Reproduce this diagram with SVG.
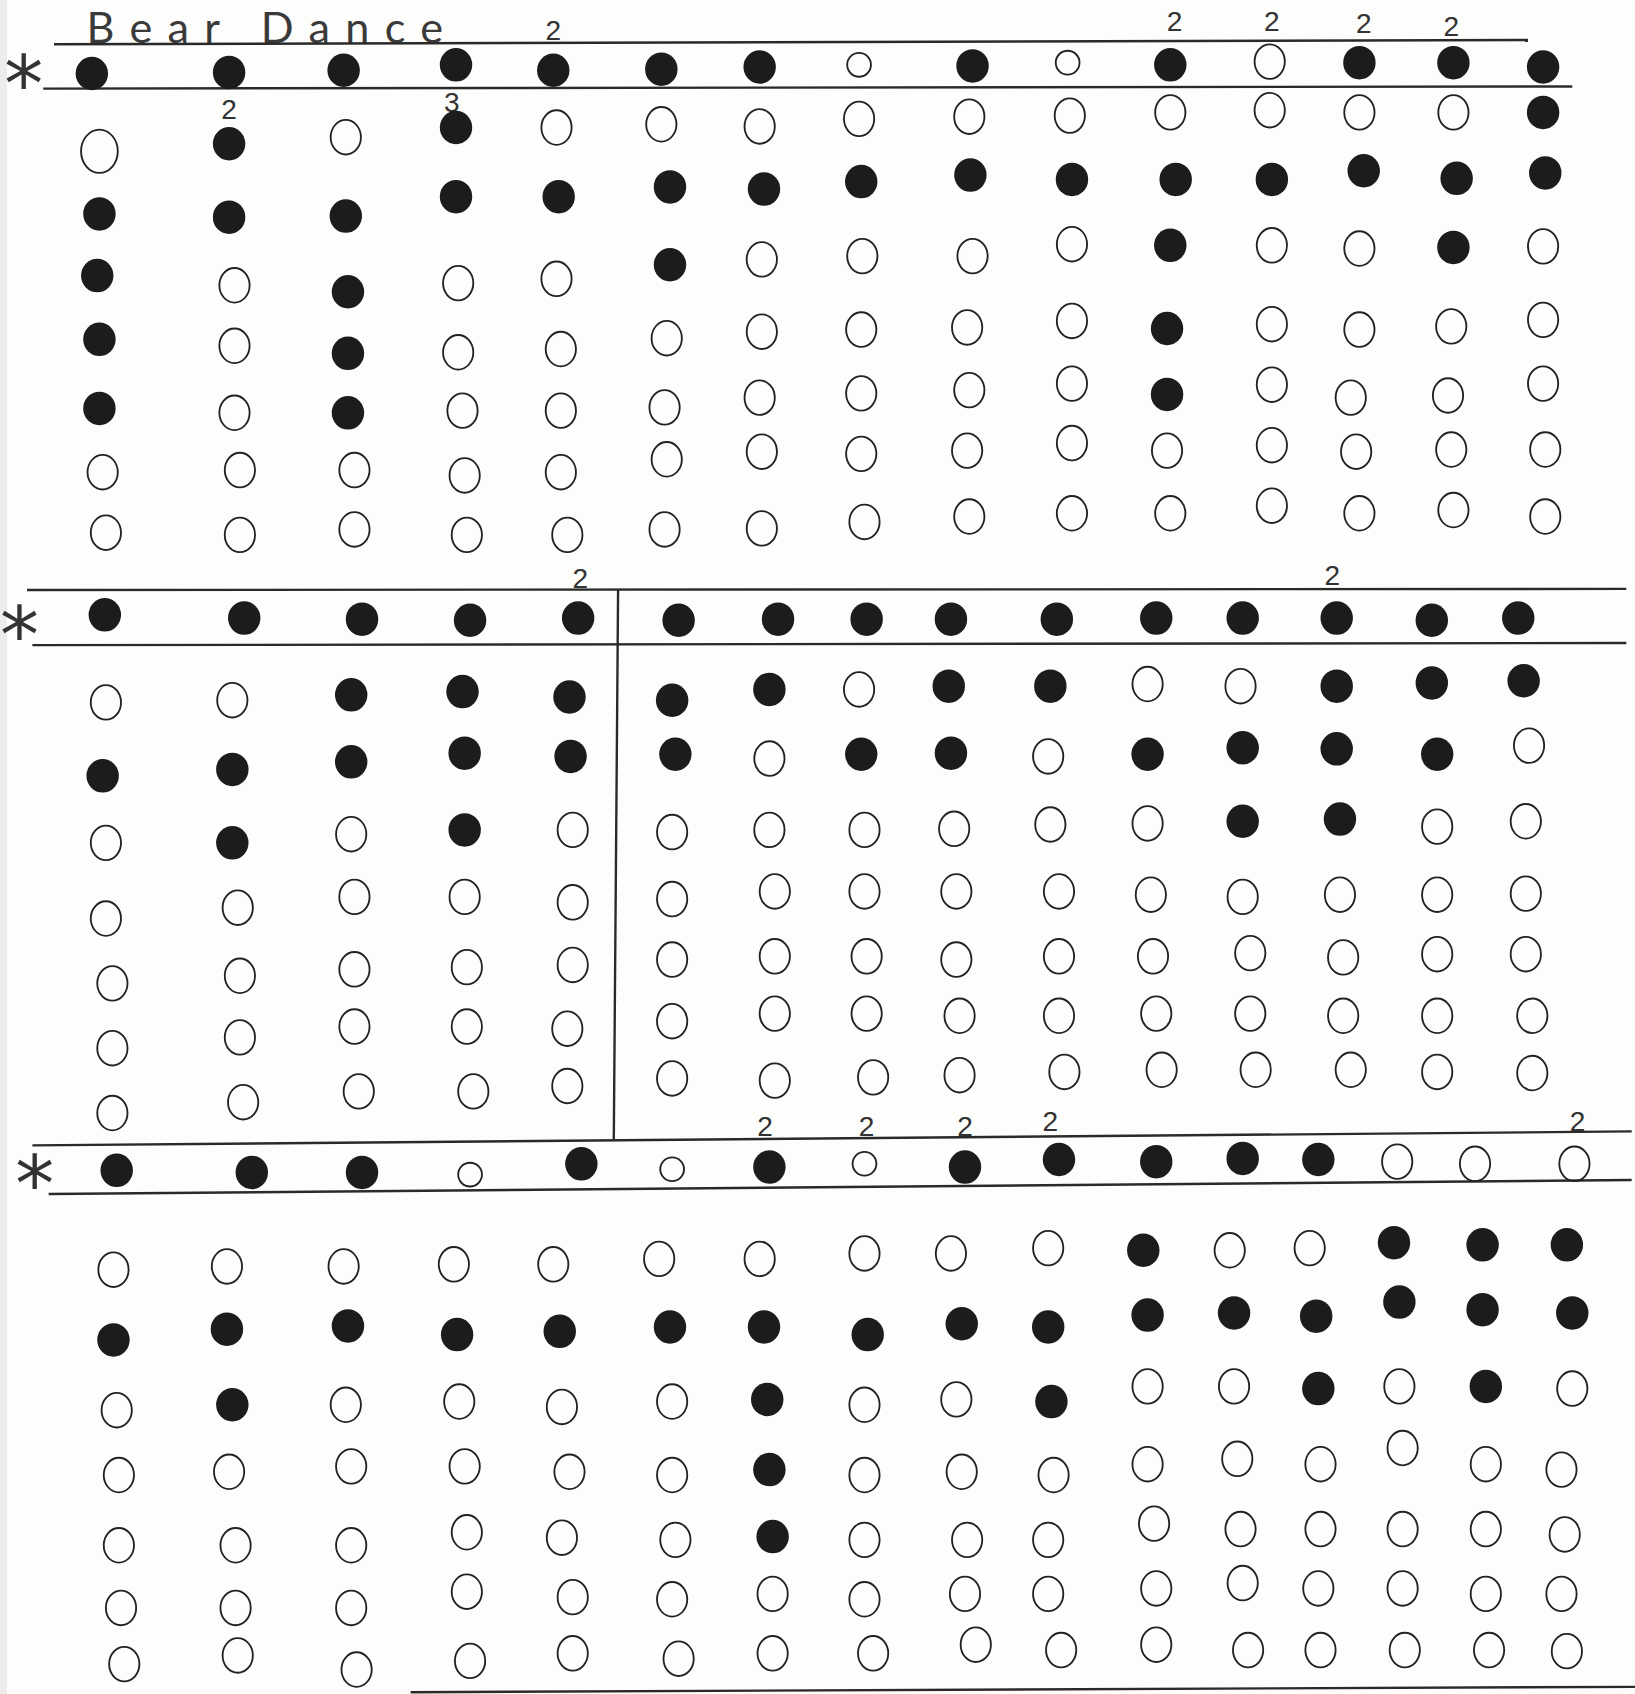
<svg xmlns="http://www.w3.org/2000/svg" xmlns:xlink="http://www.w3.org/1999/xlink" width="1635" height="1694" viewBox="0 0 1635 1694">
<style>
.ln{stroke:#2a2a2a;stroke-width:2.2;fill:none}
.num{font-family:"Liberation Sans",Arial,sans-serif;font-size:26px;fill:#333;text-anchor:middle}
.star{font-family:"DejaVu Sans",sans-serif;font-size:72px;fill:#333;text-anchor:middle}
.title{font-family:"Lato","DejaVu Sans",sans-serif;font-weight:400;font-size:40px;fill:#3a3a3a}
</style>
<defs>
<ellipse id="F" cx="0" cy="0" rx="15" ry="15.5" fill="#1c1c1c"/>
<ellipse id="O" cx="0" cy="0" rx="14" ry="16" fill="none" stroke="#222" stroke-width="1.7"/>
<ellipse id="o" cx="0" cy="0" rx="11" ry="11" fill="none" stroke="#222" stroke-width="1.7"/>
</defs>
<rect width="1635" height="1694" fill="#fdfdfc"/>
<rect x="0" y="0" width="7" height="1694" fill="#ececea"/>
<g transform="scale(1.0806)">
<g id="title"><text class="title" x="80" y="40" textLength="330" lengthAdjust="spacing">Bear Dance</text></g>
<g id="lines">
<line class="ln" x1="50" y1="41" x2="1414" y2="37"/>
<line class="ln" x1="40" y1="82" x2="1455" y2="80"/>
<line class="ln" x1="25" y1="546" x2="1505" y2="545"/>
<line class="ln" x1="30" y1="597" x2="1505" y2="595"/>
<line class="ln" x1="572" y1="545" x2="568" y2="1056"/>
<line class="ln" x1="30" y1="1060" x2="1510" y2="1047"/>
<line class="ln" x1="45" y1="1105" x2="1510" y2="1092"/>
<line class="ln" x1="380" y1="1566" x2="1513" y2="1561"/>
</g>
<g id="stars">
<text class="star" x="22" y="103">*</text>
<text class="star" x="18" y="613">*</text>
<text class="star" x="32" y="1121">*</text>
</g>
<g id="numbers">
<text class="num" x="512" y="37">2</text>
<text class="num" x="1087" y="29">2</text>
<text class="num" x="1177" y="29">2</text>
<text class="num" x="1262" y="31">2</text>
<text class="num" x="1343" y="33">2</text>
<text class="num" x="212" y="110">2</text>
<text class="num" x="418" y="104">3</text>
<text class="num" x="537" y="544">2</text>
<text class="num" x="1233" y="541">2</text>
<text class="num" x="708" y="1051">2</text>
<text class="num" x="802" y="1051">2</text>
<text class="num" x="893" y="1051">2</text>
<text class="num" x="972" y="1047">2</text>
<text class="num" x="1460" y="1047">2</text>
</g>
<g id="section1">
<use href="#F" x="85" y="68"/><use href="#F" x="212" y="67"/><use href="#F" x="318" y="65"/><use href="#F" x="422" y="60"/><use href="#F" x="512" y="65"/><use href="#F" x="612" y="64"/><use href="#F" x="703" y="62"/><use href="#o" x="795" y="60"/><use href="#F" x="900" y="61"/><use href="#o" x="988" y="58"/><use href="#F" x="1083" y="60"/><use href="#O" x="1175" y="57"/><use href="#F" x="1258" y="58"/><use href="#F" x="1345" y="58"/><use href="#F" x="1428" y="62"/>
<ellipse cx="92" cy="140" rx="17" ry="20" fill="none" stroke="#222" stroke-width="1.7"/><use href="#F" x="212" y="133"/><use href="#O" x="320" y="127"/><use href="#F" x="422" y="118"/><use href="#O" x="515" y="118"/><use href="#O" x="612" y="115"/><use href="#O" x="703" y="117"/><use href="#O" x="795" y="110"/><use href="#O" x="897" y="108"/><use href="#O" x="990" y="107"/><use href="#O" x="1083" y="104"/><use href="#O" x="1175" y="102"/><use href="#O" x="1258" y="104"/><use href="#O" x="1345" y="104"/><use href="#F" x="1428" y="104"/>
<use href="#F" x="92" y="198"/><use href="#F" x="212" y="201"/><use href="#F" x="320" y="200"/><use href="#F" x="422" y="182"/><use href="#F" x="517" y="182"/><use href="#F" x="620" y="173"/><use href="#F" x="707" y="175"/><use href="#F" x="797" y="168"/><use href="#F" x="898" y="162"/><use href="#F" x="992" y="166"/><use href="#F" x="1088" y="166"/><use href="#F" x="1177" y="166"/><use href="#F" x="1262" y="158"/><use href="#F" x="1348" y="165"/><use href="#F" x="1430" y="160"/>
<use href="#F" x="90" y="255"/><use href="#O" x="217" y="264"/><use href="#F" x="322" y="270"/><use href="#O" x="424" y="262"/><use href="#O" x="515" y="258"/><use href="#F" x="620" y="245"/><use href="#O" x="705" y="240"/><use href="#O" x="798" y="237"/><use href="#O" x="900" y="237"/><use href="#O" x="992" y="226"/><use href="#F" x="1083" y="227"/><use href="#O" x="1177" y="227"/><use href="#O" x="1258" y="230"/><use href="#F" x="1345" y="229"/><use href="#O" x="1428" y="228"/>
<use href="#F" x="92" y="314"/><use href="#O" x="217" y="320"/><use href="#F" x="322" y="327"/><use href="#O" x="424" y="326"/><use href="#O" x="519" y="323"/><use href="#O" x="617" y="313"/><use href="#O" x="705" y="307"/><use href="#O" x="797" y="305"/><use href="#O" x="895" y="303"/><use href="#O" x="992" y="297"/><use href="#F" x="1080" y="304"/><use href="#O" x="1177" y="300"/><use href="#O" x="1258" y="305"/><use href="#O" x="1343" y="302"/><use href="#O" x="1428" y="296"/>
<use href="#F" x="92" y="378"/><use href="#O" x="217" y="382"/><use href="#F" x="322" y="382"/><use href="#O" x="428" y="380"/><use href="#O" x="519" y="380"/><use href="#O" x="615" y="377"/><use href="#O" x="703" y="368"/><use href="#O" x="797" y="364"/><use href="#O" x="897" y="361"/><use href="#O" x="992" y="355"/><use href="#F" x="1080" y="365"/><use href="#O" x="1177" y="356"/><use href="#O" x="1250" y="368"/><use href="#O" x="1340" y="366"/><use href="#O" x="1428" y="355"/>
<use href="#O" x="95" y="437"/><use href="#O" x="222" y="435"/><use href="#O" x="328" y="435"/><use href="#O" x="430" y="440"/><use href="#O" x="519" y="437"/><use href="#O" x="617" y="425"/><use href="#O" x="705" y="418"/><use href="#O" x="797" y="420"/><use href="#O" x="895" y="417"/><use href="#O" x="992" y="410"/><use href="#O" x="1080" y="417"/><use href="#O" x="1177" y="412"/><use href="#O" x="1255" y="418"/><use href="#O" x="1343" y="416"/><use href="#O" x="1430" y="416"/>
<use href="#O" x="98" y="493"/><use href="#O" x="222" y="495"/><use href="#O" x="328" y="490"/><use href="#O" x="432" y="495"/><use href="#O" x="525" y="495"/><use href="#O" x="615" y="490"/><use href="#O" x="705" y="489"/><use href="#O" x="800" y="483"/><use href="#O" x="897" y="478"/><use href="#O" x="992" y="475"/><use href="#O" x="1083" y="475"/><use href="#O" x="1177" y="468"/><use href="#O" x="1258" y="475"/><use href="#O" x="1345" y="472"/><use href="#O" x="1430" y="478"/>
</g>
<g id="section2">
<use href="#F" x="97" y="569"/><use href="#F" x="226" y="572"/><use href="#F" x="335" y="573"/><use href="#F" x="435" y="574"/><use href="#F" x="535" y="572"/><use href="#F" x="628" y="574"/><use href="#F" x="720" y="573"/><use href="#F" x="802" y="573"/><use href="#F" x="880" y="573"/><use href="#F" x="978" y="573"/><use href="#F" x="1070" y="572"/><use href="#F" x="1150" y="572"/><use href="#F" x="1237" y="572"/><use href="#F" x="1325" y="574"/><use href="#F" x="1405" y="572"/>
<use href="#O" x="98" y="650"/><use href="#O" x="215" y="648"/><use href="#F" x="325" y="643"/><use href="#F" x="428" y="640"/><use href="#F" x="527" y="645"/>
<use href="#F" x="95" y="718"/><use href="#F" x="215" y="712"/><use href="#F" x="325" y="705"/><use href="#F" x="430" y="697"/><use href="#F" x="528" y="700"/>
<use href="#O" x="98" y="780"/><use href="#F" x="215" y="780"/><use href="#O" x="325" y="772"/><use href="#F" x="430" y="768"/><use href="#O" x="530" y="768"/>
<use href="#O" x="98" y="850"/><use href="#O" x="220" y="840"/><use href="#O" x="328" y="830"/><use href="#O" x="430" y="830"/><use href="#O" x="530" y="835"/>
<use href="#O" x="104" y="910"/><use href="#O" x="222" y="903"/><use href="#O" x="328" y="897"/><use href="#O" x="432" y="895"/><use href="#O" x="530" y="893"/>
<use href="#O" x="104" y="970"/><use href="#O" x="222" y="960"/><use href="#O" x="328" y="950"/><use href="#O" x="432" y="950"/><use href="#O" x="525" y="952"/>
<use href="#O" x="104" y="1030"/><use href="#O" x="225" y="1020"/><use href="#O" x="332" y="1010"/><use href="#O" x="438" y="1010"/><use href="#O" x="525" y="1005"/>
<use href="#F" x="622" y="648"/><use href="#F" x="712" y="638"/><use href="#O" x="795" y="638"/><use href="#F" x="878" y="635"/><use href="#F" x="972" y="635"/><use href="#O" x="1062" y="633"/><use href="#O" x="1148" y="635"/><use href="#F" x="1237" y="635"/><use href="#F" x="1325" y="632"/><use href="#F" x="1410" y="630"/>
<use href="#F" x="625" y="698"/><use href="#O" x="712" y="702"/><use href="#F" x="797" y="698"/><use href="#F" x="880" y="697"/><use href="#O" x="970" y="700"/><use href="#F" x="1062" y="698"/><use href="#F" x="1150" y="692"/><use href="#F" x="1237" y="693"/><use href="#F" x="1330" y="698"/><use href="#O" x="1415" y="690"/>
<use href="#O" x="622" y="770"/><use href="#O" x="712" y="768"/><use href="#O" x="800" y="768"/><use href="#O" x="883" y="767"/><use href="#O" x="972" y="763"/><use href="#O" x="1062" y="762"/><use href="#F" x="1150" y="760"/><use href="#F" x="1240" y="758"/><use href="#O" x="1330" y="765"/><use href="#O" x="1412" y="760"/>
<use href="#O" x="622" y="832"/><use href="#O" x="717" y="825"/><use href="#O" x="800" y="825"/><use href="#O" x="885" y="825"/><use href="#O" x="980" y="825"/><use href="#O" x="1065" y="828"/><use href="#O" x="1150" y="830"/><use href="#O" x="1240" y="828"/><use href="#O" x="1330" y="828"/><use href="#O" x="1412" y="827"/>
<use href="#O" x="622" y="888"/><use href="#O" x="717" y="885"/><use href="#O" x="802" y="885"/><use href="#O" x="885" y="888"/><use href="#O" x="980" y="885"/><use href="#O" x="1067" y="885"/><use href="#O" x="1157" y="882"/><use href="#O" x="1243" y="886"/><use href="#O" x="1330" y="883"/><use href="#O" x="1412" y="883"/>
<use href="#O" x="622" y="945"/><use href="#O" x="717" y="938"/><use href="#O" x="802" y="938"/><use href="#O" x="888" y="940"/><use href="#O" x="980" y="940"/><use href="#O" x="1070" y="938"/><use href="#O" x="1157" y="938"/><use href="#O" x="1243" y="940"/><use href="#O" x="1330" y="940"/><use href="#O" x="1418" y="940"/>
<use href="#O" x="622" y="998"/><use href="#O" x="717" y="1000"/><use href="#O" x="808" y="997"/><use href="#O" x="888" y="995"/><use href="#O" x="985" y="992"/><use href="#O" x="1075" y="990"/><use href="#O" x="1162" y="990"/><use href="#O" x="1250" y="990"/><use href="#O" x="1330" y="992"/><use href="#O" x="1418" y="993"/>
</g>
<g id="section3">
<use href="#F" x="108" y="1083"/><use href="#F" x="233" y="1085"/><use href="#F" x="335" y="1085"/><use href="#o" x="435" y="1087"/><use href="#F" x="538" y="1077"/><use href="#o" x="622" y="1082"/><use href="#F" x="712" y="1080"/><use href="#o" x="800" y="1077"/><use href="#F" x="893" y="1080"/><use href="#F" x="980" y="1073"/><use href="#F" x="1070" y="1075"/><use href="#F" x="1150" y="1072"/><use href="#F" x="1220" y="1073"/><use href="#O" x="1293" y="1075"/><use href="#O" x="1365" y="1077"/><use href="#O" x="1457" y="1077"/>
<use href="#O" x="105" y="1175"/><use href="#O" x="210" y="1172"/><use href="#O" x="318" y="1172"/><use href="#O" x="420" y="1170"/><use href="#O" x="512" y="1170"/><use href="#O" x="610" y="1165"/><use href="#O" x="703" y="1165"/><use href="#O" x="800" y="1160"/><use href="#O" x="880" y="1160"/><use href="#O" x="970" y="1155"/><use href="#F" x="1058" y="1157"/><use href="#O" x="1138" y="1157"/><use href="#O" x="1212" y="1155"/><use href="#F" x="1290" y="1150"/><use href="#F" x="1372" y="1152"/><use href="#F" x="1450" y="1152"/>
<use href="#F" x="105" y="1240"/><use href="#F" x="210" y="1230"/><use href="#F" x="322" y="1227"/><use href="#F" x="423" y="1235"/><use href="#F" x="518" y="1232"/><use href="#F" x="620" y="1228"/><use href="#F" x="707" y="1228"/><use href="#F" x="803" y="1235"/><use href="#F" x="890" y="1225"/><use href="#F" x="970" y="1228"/><use href="#F" x="1062" y="1217"/><use href="#F" x="1142" y="1215"/><use href="#F" x="1218" y="1218"/><use href="#F" x="1295" y="1205"/><use href="#F" x="1372" y="1212"/><use href="#F" x="1455" y="1215"/>
<use href="#O" x="108" y="1305"/><use href="#F" x="215" y="1300"/><use href="#O" x="320" y="1300"/><use href="#O" x="425" y="1297"/><use href="#O" x="520" y="1302"/><use href="#O" x="622" y="1297"/><use href="#F" x="710" y="1295"/><use href="#O" x="800" y="1300"/><use href="#O" x="885" y="1295"/><use href="#F" x="973" y="1297"/><use href="#O" x="1062" y="1283"/><use href="#O" x="1142" y="1283"/><use href="#F" x="1220" y="1285"/><use href="#O" x="1295" y="1283"/><use href="#F" x="1375" y="1283"/><use href="#O" x="1455" y="1285"/>
<use href="#O" x="110" y="1365"/><use href="#O" x="212" y="1362"/><use href="#O" x="325" y="1357"/><use href="#O" x="430" y="1357"/><use href="#O" x="527" y="1362"/><use href="#O" x="622" y="1365"/><use href="#F" x="712" y="1360"/><use href="#O" x="800" y="1365"/><use href="#O" x="890" y="1362"/><use href="#O" x="975" y="1365"/><use href="#O" x="1062" y="1355"/><use href="#O" x="1145" y="1350"/><use href="#O" x="1222" y="1355"/><use href="#O" x="1298" y="1340"/><use href="#O" x="1375" y="1355"/><use href="#O" x="1445" y="1360"/>
<use href="#O" x="110" y="1430"/><use href="#O" x="218" y="1430"/><use href="#O" x="325" y="1430"/><use href="#O" x="432" y="1418"/><use href="#O" x="520" y="1423"/><use href="#O" x="625" y="1425"/><use href="#F" x="715" y="1422"/><use href="#O" x="800" y="1425"/><use href="#O" x="895" y="1425"/><use href="#O" x="970" y="1425"/><use href="#O" x="1068" y="1410"/><use href="#O" x="1148" y="1415"/><use href="#O" x="1222" y="1415"/><use href="#O" x="1298" y="1415"/><use href="#O" x="1375" y="1415"/><use href="#O" x="1448" y="1420"/>
<use href="#O" x="112" y="1488"/><use href="#O" x="218" y="1488"/><use href="#O" x="325" y="1488"/><use href="#O" x="432" y="1473"/><use href="#O" x="530" y="1478"/><use href="#O" x="622" y="1480"/><use href="#O" x="715" y="1475"/><use href="#O" x="800" y="1480"/><use href="#O" x="893" y="1475"/><use href="#O" x="970" y="1475"/><use href="#O" x="1070" y="1470"/><use href="#O" x="1150" y="1465"/><use href="#O" x="1220" y="1470"/><use href="#O" x="1298" y="1470"/><use href="#O" x="1375" y="1475"/><use href="#O" x="1445" y="1475"/>
<use href="#O" x="115" y="1540"/><use href="#O" x="220" y="1532"/><use href="#O" x="330" y="1545"/><use href="#O" x="435" y="1537"/><use href="#O" x="530" y="1530"/><use href="#O" x="628" y="1535"/><use href="#O" x="715" y="1530"/><use href="#O" x="808" y="1530"/><use href="#O" x="903" y="1522"/><use href="#O" x="982" y="1527"/><use href="#O" x="1070" y="1522"/><use href="#O" x="1155" y="1527"/><use href="#O" x="1222" y="1527"/><use href="#O" x="1300" y="1527"/><use href="#O" x="1378" y="1527"/><use href="#O" x="1450" y="1528"/>
</g>
</g>
</svg>
